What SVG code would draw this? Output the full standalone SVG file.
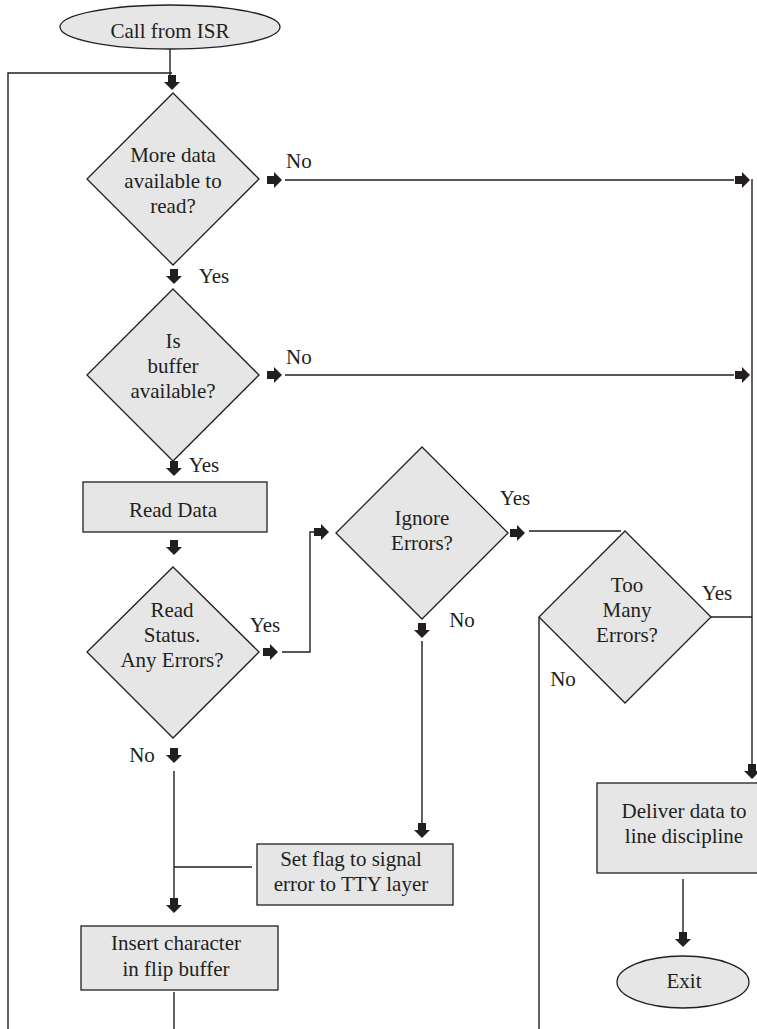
<svg xmlns="http://www.w3.org/2000/svg" width="757" height="1029" viewBox="0 0 757 1029">
  <style>
    .shape { fill: #e6e6e7; stroke: #231f20; stroke-width: 1.3; }
    .wire { fill: none; stroke: #231f20; stroke-width: 1.4; }
    .head { fill: #231f20; }
    text { font-family: "Liberation Serif", "Times New Roman", serif; font-size: 21px; fill: #231f20; }
    .c { text-anchor: middle; }
  </style>
  <defs>
    <!-- block arrowhead, pointing down, tip at the origin -->
    <path id="ah" d="M-4,-15 H4 V-8 H8 L0,0 L-8,-8 H-4 Z"/>
  </defs>
  <rect width="757" height="1029" fill="#ffffff"/>

  <g id="connectors">
    <path class="wire" d="M170,49 V75"/>
    <path class="wire" d="M8,1029 V73 H172"/>
    <path class="wire" d="M285,180 H734"/>
    <path class="wire" d="M285,375 H734"/>
    <path class="wire" d="M752,179 V766"/>
    <path class="wire" d="M282,652 H310 V532 H316"/>
    <path class="wire" d="M529,531 H621"/>
    <path class="wire" d="M711,617 H752"/>
    <path class="wire" d="M539,617 V1029"/>
    <path class="wire" d="M422,641 V824"/>
    <path class="wire" d="M252,867 H174"/>
    <path class="wire" d="M174,771 V899"/>
    <path class="wire" d="M174,992 V1029"/>
    <path class="wire" d="M683,879 V933"/>

    <g class="head">
      <use href="#ah" transform="translate(172,90)"/>
      <use href="#ah" transform="translate(174,284)"/>
      <use href="#ah" transform="translate(174,476)"/>
      <use href="#ah" transform="translate(174,555)"/>
      <use href="#ah" transform="translate(174,763)"/>
      <use href="#ah" transform="translate(174,913)"/>
      <use href="#ah" transform="translate(422,638)"/>
      <use href="#ah" transform="translate(422,838)"/>
      <use href="#ah" transform="translate(752,779)"/>
      <use href="#ah" transform="translate(683,947)"/>
      <use href="#ah" transform="translate(282,180) rotate(-90)"/>
      <use href="#ah" transform="translate(750,180) rotate(-90)"/>
      <use href="#ah" transform="translate(282,375) rotate(-90)"/>
      <use href="#ah" transform="translate(750,375) rotate(-90)"/>
      <use href="#ah" transform="translate(278,652) rotate(-90)"/>
      <use href="#ah" transform="translate(329,532) rotate(-90)"/>
      <use href="#ah" transform="translate(525,533) rotate(-90)"/>
    </g>

    <text x="286" y="168">No</text>
    <text x="286" y="364">No</text>
    <text class="c" x="214" y="283">Yes</text>
    <text class="c" x="204" y="472">Yes</text>
    <text class="c" x="265" y="632">Yes</text>
    <text class="c" x="142" y="762">No</text>
    <text class="c" x="515" y="505">Yes</text>
    <text class="c" x="462" y="627">No</text>
    <text class="c" x="717" y="600">Yes</text>
    <text class="c" x="563" y="686">No</text>
  </g>

  <g id="start">
    <ellipse class="shape" cx="170" cy="27" rx="110" ry="22"/>
    <text class="c" x="170" y="38">Call from ISR</text>
  </g>

  <g id="more-data">
    <polygon class="shape" points="173,93 259,179 173,265 87,179"/>
    <text class="c" x="173" y="162">More data</text>
    <text class="c" x="173" y="188">available to</text>
    <text class="c" x="173" y="213">read?</text>
  </g>

  <g id="buffer-available">
    <polygon class="shape" points="173,289 259,375 173,461 87,375"/>
    <text class="c" x="173" y="348">Is</text>
    <text class="c" x="173" y="373">buffer</text>
    <text class="c" x="173" y="398">available?</text>
  </g>

  <g id="read-data">
    <rect class="shape" x="83" y="482" width="184" height="50"/>
    <text class="c" x="173" y="517">Read Data</text>
  </g>

  <g id="read-status">
    <polygon class="shape" points="173,567 259,652 173,738 87,652"/>
    <text class="c" x="172" y="617">Read</text>
    <text class="c" x="172" y="642">Status.</text>
    <text class="c" x="172" y="667">Any Errors?</text>
  </g>

  <g id="ignore-errors">
    <polygon class="shape" points="422,447 508,533 422,619 336,533"/>
    <text class="c" x="422" y="525">Ignore</text>
    <text class="c" x="422" y="550">Errors?</text>
  </g>

  <g id="too-many-errors">
    <polygon class="shape" points="625,531 711,617 625,703 539,617"/>
    <text class="c" x="627" y="592">Too</text>
    <text class="c" x="627" y="617">Many</text>
    <text class="c" x="627" y="642">Errors?</text>
  </g>

  <g id="set-flag">
    <rect class="shape" x="257" y="844" width="196" height="61"/>
    <text class="c" x="351" y="866">Set flag to signal</text>
    <text class="c" x="351" y="891">error to TTY layer</text>
  </g>

  <g id="insert-char">
    <rect class="shape" x="81" y="926" width="197" height="64"/>
    <text class="c" x="176" y="950">Insert character</text>
    <text class="c" x="176" y="976">in flip buffer</text>
  </g>

  <g id="deliver">
    <rect class="shape" x="597" y="783" width="170" height="90"/>
    <text class="c" x="684" y="818">Deliver data to</text>
    <text class="c" x="684" y="843">line discipline</text>
  </g>

  <g id="exit">
    <ellipse class="shape" cx="683" cy="982" rx="66" ry="26"/>
    <text class="c" x="684" y="988">Exit</text>
  </g>
</svg>
